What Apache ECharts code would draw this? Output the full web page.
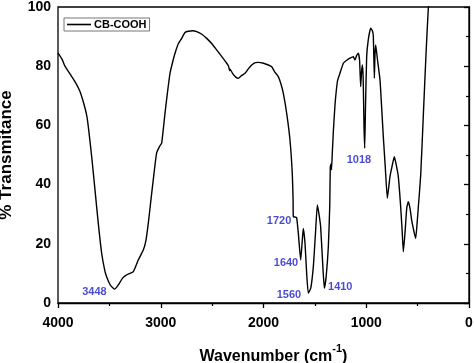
<!DOCTYPE html>
<html><head><meta charset="utf-8">
<script src="https://cdn.jsdelivr.net/npm/echarts@6/dist/echarts.min.js"></script>
<style>html,body{margin:0;padding:0;background:#fff}#c{width:474px;height:363px}</style>
</head><body><div id="c"></div>
<script>
const seriesName = 'CB-COOH';
const wavenumber = [4000,3960,3932,3880,3835,3790,3754,3721,3705,3672,3640,3608,3575,3545,3527,3490,3462,3448,3413,3370,3332,3267,3219,3170,3145,3121,3095,3073,3040,3010,2991,2959,2935,2910,2880,2861,2830,2796,2780,2760,2732,2690,2650,2600,2553,2500,2456,2400,2358,2340,2330,2326,2300,2270,2245,2215,2180,2150,2115,2080,2051,2000,1953,1920,1890,1856,1830,1807,1774,1742,1720,1712,1710,1690,1677,1661,1638,1625,1613,1596,1580,1564,1540,1515,1495,1476,1460,1444,1425,1408,1390,1369,1355,1350,1342,1338,1330,1320,1304,1280,1256,1223,1190,1158,1126,1110,1095,1077,1065,1054,1046,1038,1030,1022,1015,1008,996,980,957,940,931,921,915,908,890,866,850,834,815,795,785,769,750,727,710,688,665,650,639,623,606,591,574,558,535,519,505,493,470,445,418,396,390];
const transmittance = [84.5,82.3,80,77.2,74.8,71.8,68,63.5,59.6,49.4,38.2,26.9,16.8,11,8.9,6,5.0,4.7,6.1,8.5,9.5,10.6,14.5,17.9,21,27,35,41.6,50.7,53,54,64,71,77.6,82,84.4,87.5,89.4,90.5,91.5,91.8,92,91.7,90.8,89.4,87.5,85.5,83,81,80,78.5,79,77.5,76.3,75.9,76.8,77.6,79,80.4,81.2,81.3,81,80.4,79.8,78,76.5,74,70.8,64,55,43.8,35,29.2,29,28.8,23.5,14.5,20,25.2,20.2,10,3.3,5,12.3,23,33.1,30,25.8,14,5,9,19,33,46,47,45,51,58,67,75,77.6,81,82,82.7,83.2,82.1,83.5,84.4,82,73.1,78,80.4,76,60,52.3,65,83.2,89,92.8,92,90,75.9,84,87.2,82,75.3,66,56.2,46,35.4,38,42.7,46,49.4,47,42.7,32.5,24,17.3,23.6,32,34.2,32,28,24,21.8,27,32.5,43.2,63,84.4,99.6,101];
const peakLabels = ['3448','1720','1640','1560','1410','1018'];
const peakLabelX = [3645,1849,1781,1752,1253,1071];
const peakLabelY = [3.7,27.7,13.6,2.7,5.3,48.3];
const xTicks = [0,1000,2000,3000,4000];
const yTicks = [0,20,40,60,80,100];

const lineData = wavenumber.map((x,i)=>[x, transmittance[i]]);
const annData = peakLabels.map((t,i)=>({value:[peakLabelX[i], peakLabelY[i]], name:t}));
const FONT = '"Liberation Sans", Arial, sans-serif';

const chart = echarts.init(document.getElementById('c'), null, {renderer:'canvas'});
chart.setOption({
  animation:false,
  backgroundColor:'#fff',
  grid:{left:58, right:5, top:7, bottom:60, show:true, borderColor:'#000', borderWidth:1.3, backgroundColor:'transparent', containLabel:false, outerBoundsMode:'none'},
  legend:{
    left:64, top:18, orient:'vertical',
    data:[{name:seriesName, icon:'rect'}],
    itemWidth:24, itemHeight:1.6, itemGap:0,
    borderColor:'#777', borderWidth:1, padding:[1,3,1,3],
    textStyle:{fontFamily:FONT, fontWeight:'bold', fontSize:11, color:'#000', padding:[0,0,0,-2]}
  },
  xAxis:{
    type:'value', min:0, max:4000, interval:1000, inverse:true,
    name:'{a|Wavenumber (cm}{s|-1}{a|)}', nameLocation:'middle', nameGap:40,
    nameTextStyle:{rich:{
      a:{fontFamily:FONT, fontWeight:'bold', fontSize:16, color:'#000', lineHeight:22, verticalAlign:'bottom'},
      s:{fontFamily:FONT, fontWeight:'bold', fontSize:11, color:'#000', lineHeight:22, verticalAlign:'top'}
    }, padding:[0,0,0,20]},
    axisLine:{show:true, lineStyle:{color:'#000', width:1.3}},
    axisTick:{show:true, inside:false, length:5, lineStyle:{color:'#000', width:1.3}},
    minorTick:{show:true, splitNumber:2, length:3, lineStyle:{color:'#000', width:1.2}},
    axisLabel:{fontFamily:FONT, fontWeight:'bold', fontSize:14, color:'#000', margin:13,
      formatter:v=> xTicks.includes(v)? String(v):''},
    splitLine:{show:false}
  },
  yAxis:{
    type:'value', min:0, max:100, interval:20,
    name:'% Transmitance', nameLocation:'middle', nameGap:43, nameRotate:90,
    nameTextStyle:{fontFamily:FONT, fontWeight:'bold', fontSize:17, color:'#000'},
    axisLine:{show:true, lineStyle:{color:'#000', width:1.3}},
    axisTick:{show:true, inside:false, length:5, lineStyle:{color:'#000', width:1.3}},
    minorTick:{show:true, splitNumber:2, length:3, lineStyle:{color:'#000', width:1.2}},
    axisLabel:{fontFamily:FONT, fontWeight:'bold', fontSize:14, color:'#000', margin:7,
      formatter:v=> yTicks.includes(v)? String(v):''},
    splitLine:{show:false}
  },
  series:[
    {name:seriesName, type:'line', data:lineData, showSymbol:false, symbol:'none', smooth:0.15,
     lineStyle:{color:'#000', width:1.4}, itemStyle:{color:'#000'}, clip:true, z:3},
    {name:'labels', type:'scatter', data:annData, symbolSize:0, silent:true,
     label:{show:true, position:'inside', formatter:p=>p.name, fontFamily:FONT, fontWeight:'bold', fontSize:11, color:'#1c1cc8'}, z:4}
  ]
});
</script></body></html>
